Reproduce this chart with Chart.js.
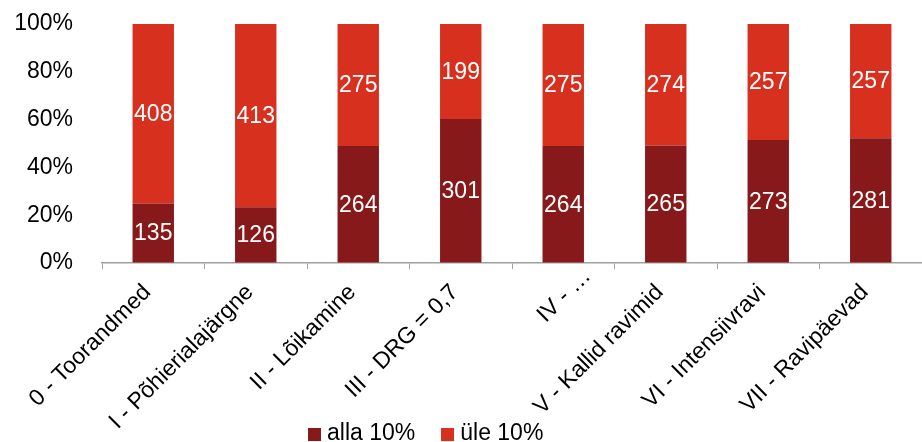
<!DOCTYPE html>
<html>
<head>
<meta charset="utf-8">
<script src="https://cdn.jsdelivr.net/npm/chart.js@4/dist/chart.umd.min.js"></script>
<style>
  body { margin: 0; background: #fff; overflow: hidden; }
  #wrap { position: relative; width: 922px; height: 442px; }
  #legend { position: absolute; left: 308px; top: 421px; font: 23px "Liberation Sans", Arial, sans-serif; line-height: 23px; color: #000; white-space: nowrap; }
  #legend span.box { display: inline-block; width: 13px; height: 13px; margin-right: 6px; vertical-align: -1px; }
  #legend span.item { margin-right: 26px; }
</style>
</head>
<body>
<div id="wrap">
  <canvas id="grafico"></canvas>
  <div id="legend"></div>
</div>
<script>
const categorias = ['0 - Toorandmed', 'I - Põhierialajärgne', 'II - Lõikamine', 'III - DRG = 0,7', 'IV - …', 'V - Kallid ravimid', 'VI - Intensiivravi', 'VII - Ravipäevad'];
const alla10 = [135, 126, 264, 301, 264, 265, 273, 281];
const ule10 = [408, 413, 275, 199, 275, 274, 257, 257];
const nimed = ['alla 10%', 'üle 10%'];
const VARVID = ['#87191a', '#d7301f'];
const FONT = '"Liberation Sans", Arial, sans-serif';

function protsent(osa, teine) {
  return osa.map((v, i) => (v / (v + teine[i])) * 100);
}

// väärtused tulpade sees
const sildid = {
  id: 'sildid',
  afterDatasetsDraw(chart) {
    const ctx = chart.ctx;
    ctx.save();
    ctx.fillStyle = '#fff';
    ctx.font = '23px ' + FONT;
    ctx.textAlign = 'center';
    ctx.textBaseline = 'middle';
    chart.data.datasets.forEach((ds, di) => {
      chart.getDatasetMeta(di).data.forEach((bar, i) => {
        const p = bar.getProps(['x', 'y', 'base'], true);
        ctx.fillText(String(ds.counts[i]), p.x, (p.y + p.base) / 2 + 1);
      });
    });
    ctx.restore();
  }
};

// kärbitud silt "IV - …" on originaalis veidi paremal
const nihe = {
  id: 'nihe',
  beforeDraw(chart) {
    const items = chart.scales.x.getLabelItems();
    const it = items[4];
    if (it && !it._nihutatud) {
      it.options.translation[0] += 30;
      it.options.translation[1] -= 16;
      it._nihutatud = true;
    }
  }
};

new Chart(document.getElementById('grafico'), {
  type: 'bar',
  data: {
    labels: categorias,
    datasets: [
      { label: nimed[0], data: protsent(alla10, ule10), counts: alla10, backgroundColor: VARVID[0] },
      { label: nimed[1], data: protsent(ule10, alla10), counts: ule10, backgroundColor: VARVID[1] },
    ],
  },
  options: {
    responsive: true,
    maintainAspectRatio: false,
    animation: false,
    categoryPercentage: 1,
    barPercentage: 0.404,
    layout: { padding: { top: 0, right: -12, left: 0, bottom: 0 } },
    plugins: { legend: { display: false }, tooltip: { enabled: false } },
    scales: {
      x: {
        stacked: true,
        grid: { display: true, drawOnChartArea: false, tickLength: 6, color: '#a0a0a0', offset: true },
        border: { display: true, color: '#a0a0a0', width: 1.5 },
        ticks: { color: '#000', font: { size: 23, family: FONT }, minRotation: 45, maxRotation: 45, padding: 10, labelOffset: -6, autoSkip: false },
        afterFit: (s) => { s.height = 179; },
      },
      y: {
        stacked: true,
        min: 0,
        max: 100,
        grid: { display: true, drawOnChartArea: false, drawTicks: false },
        border: { display: false },
        ticks: { stepSize: 20, color: '#000', font: { size: 23, family: FONT }, padding: 29, callback: (v) => v + '%' },
        afterFit: (s) => { s.width = 102; s.paddingTop = 24; s.paddingBottom = 14; },
      },
    },
  },
  plugins: [sildid, nihe],
});

document.getElementById('legend').innerHTML = nimed
  .map((n, i) => `<span class="item"><span class="box" style="background:${VARVID[i]}"></span>${n}</span>`)
  .join('');
</script>
</body>
</html>
